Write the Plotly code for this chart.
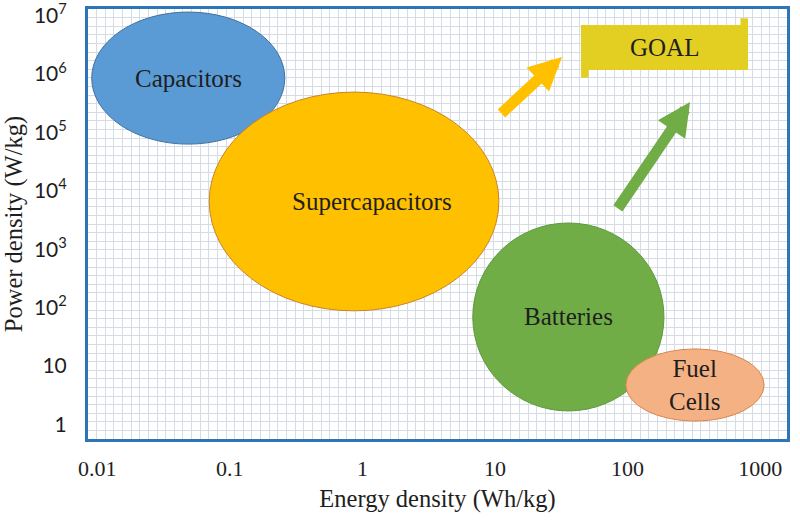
import numpy as np
import plotly.graph_objects as go

# ---- data (energy density Wh/kg, power density W/kg) ----
devices = ["Capacitors", "Supercapacitors", "Batteries", "Fuel<br>Cells"]
energy_lo = [0.0091, 0.070, 6.8, 97.0]
energy_hi = [0.26, 10.7, 188.0, 1070.0]
power_lo = [6.3e4, 88.0, 1.7, 1.14]
power_hi = [1.15e7, 4.9e5, 2810.0, 19.6]
fills = ["#5B9BD5", "#FFC000", "#70AD47", "#F4B183"]
edges = ["#41719C", "#C9832A", "#5E9A3B", "#D9854E"]

goal_energy = [44.6, 809.0]
goal_power = [1.17e6, 6.9e6]

arrow_from_e = [10.9, 83.0]
arrow_from_p = [2.0e5, 4.7e3]
arrow_to_e = [32.0, 296.0]
arrow_to_p = [1.95e6, 3.3e5]
arrow_colors = ["#FFC000", "#70AD47"]

x_ticks = [0.01, 0.1, 1, 10, 100, 1000]
x_ticktext = ["0.01", "0.1", "1", "10", "100", "1000"]
y_ticks = [1, 10, 100, 1e3, 1e4, 1e5, 1e6, 1e7]
y_ticktext = ["1", "10", "10<sup>2</sup>", "10<sup>3</sup>", "10<sup>4</sup>",
              "10<sup>5</sup>", "10<sup>6</sup>", "10<sup>7</sup>"]

SERIF = "Liberation Serif"
TXT = "#1e1e1e"

fig = go.Figure()
# dummy trace to materialise the graph-paper overlay axes
fig.add_trace(go.Scatter(x=[None], y=[None], xaxis="x2", yaxis="y2",
                         showlegend=False, hoverinfo="skip"))
fig.add_trace(go.Scatter(x=[None], y=[None], showlegend=False, hoverinfo="skip"))

shapes = []
annotations = []
for name, e0, e1, p0, p1, fc, ec in zip(devices, energy_lo, energy_hi, power_lo, power_hi, fills, edges):
    shapes.append(dict(type="circle", xref="x", yref="y", x0=e0, x1=e1, y0=p0, y1=p1,
                       fillcolor=fc, line=dict(color=ec, width=1), layer="above"))
    cx = (np.log10(e0) + np.log10(e1)) / 2
    cy = (np.log10(p0) + np.log10(p1)) / 2
    annotations.append(dict(x=cx, y=cy, xref="x", yref="y", text=name, showarrow=False,
                            xshift=18 if name == "Supercapacitors" else 0,
                            font=dict(family=SERIF, size=25, color=TXT)))

# GOAL banner
gc = "#E2CF22"
shapes.append(dict(type="rect", xref="x", yref="y", x0=goal_energy[0], x1=goal_energy[1],
                   y0=goal_power[0], y1=goal_power[1], fillcolor=gc, line=dict(width=0), layer="above"))
lx0, lx1 = np.log10(goal_energy)
ly0, ly1 = np.log10(goal_power)
w = (lx1 - lx0) * 0.045
h = (ly1 - ly0)
shapes.append(dict(type="rect", xref="x", yref="y", x0=10 ** lx0, x1=10 ** (lx0 + w),
                   y0=10 ** (ly0 - 0.17 * h), y1=10 ** ly1, fillcolor=gc, line=dict(width=0), layer="above"))
shapes.append(dict(type="rect", xref="x", yref="y", x0=10 ** (lx1 - w), x1=10 ** lx1,
                   y0=10 ** ly0, y1=10 ** (ly1 + 0.15 * h), fillcolor=gc, line=dict(width=0), layer="above"))
annotations.append(dict(x=(lx0 + lx1) / 2, y=(ly0 + ly1) / 2, xref="x", yref="y", text="GOAL",
                        showarrow=False, font=dict(family=SERIF, size=25, color=TXT)))

# arrows
for fe, fp, te, tp, col in zip(arrow_from_e, arrow_from_p, arrow_to_e, arrow_to_p, arrow_colors):
    annotations.append(dict(x=np.log10(te), y=np.log10(tp), ax=np.log10(fe), ay=np.log10(fp),
                            xref="x", yref="y", axref="x", ayref="y", text="", showarrow=True,
                            arrowhead=2, arrowsize=0.6, arrowwidth=11, arrowcolor=col))

fig.update_layout(
    width=800, height=523,
    margin=dict(l=88, r=13, t=9, b=84, autoexpand=False),
    paper_bgcolor="white", plot_bgcolor="white",
    showlegend=False,
    shapes=shapes, annotations=annotations,
    xaxis=dict(type="log", range=[-2.069, 3.202], tickvals=x_ticks, ticktext=x_ticktext,
               automargin=False, ticklabeloverflow="allow",
               showgrid=False, zeroline=False, showline=True, mirror=True,
               linecolor="#2E75B6", linewidth=3, ticks="", ticklabelstandoff=8,
               tickfont=dict(family=SERIF, size=22, color=TXT),
               title=dict(text="Energy density (Wh/kg)", standoff=10,
                          font=dict(family=SERIF, size=24.5, color=TXT))),
    yaxis=dict(type="log", range=[-0.25, 7.113], tickvals=y_ticks, ticktext=y_ticktext,
               automargin=False, ticklabeloverflow="allow",
               showgrid=False, zeroline=False, showline=True, mirror=True,
               linecolor="#2E75B6", linewidth=3, ticks="", ticklabelstandoff=14,
               tickfont=dict(family="Lato", size=21, color=TXT),
               title=dict(text="Power density (W/kg)", standoff=10,
                          font=dict(family=SERIF, size=24.5, color=TXT))),
    xaxis2=dict(overlaying="x", anchor="y2", side="top", range=[0, 81], dtick=1,
                automargin=False,
                showgrid=True, gridcolor="#D6DCE6", gridwidth=1, showticklabels=False,
                ticks="", showline=False, zeroline=False, fixedrange=True),
    yaxis2=dict(overlaying="y", anchor="x2", side="right", range=[0, 50], dtick=1,
                automargin=False,
                showgrid=True, gridcolor="#D6DCE6", gridwidth=1, showticklabels=False,
                ticks="", showline=False, zeroline=False, fixedrange=True),
)

fig.write_html("out.html", config={"displayModeBar": False},
               post_script="document.body.style.margin='0';")
